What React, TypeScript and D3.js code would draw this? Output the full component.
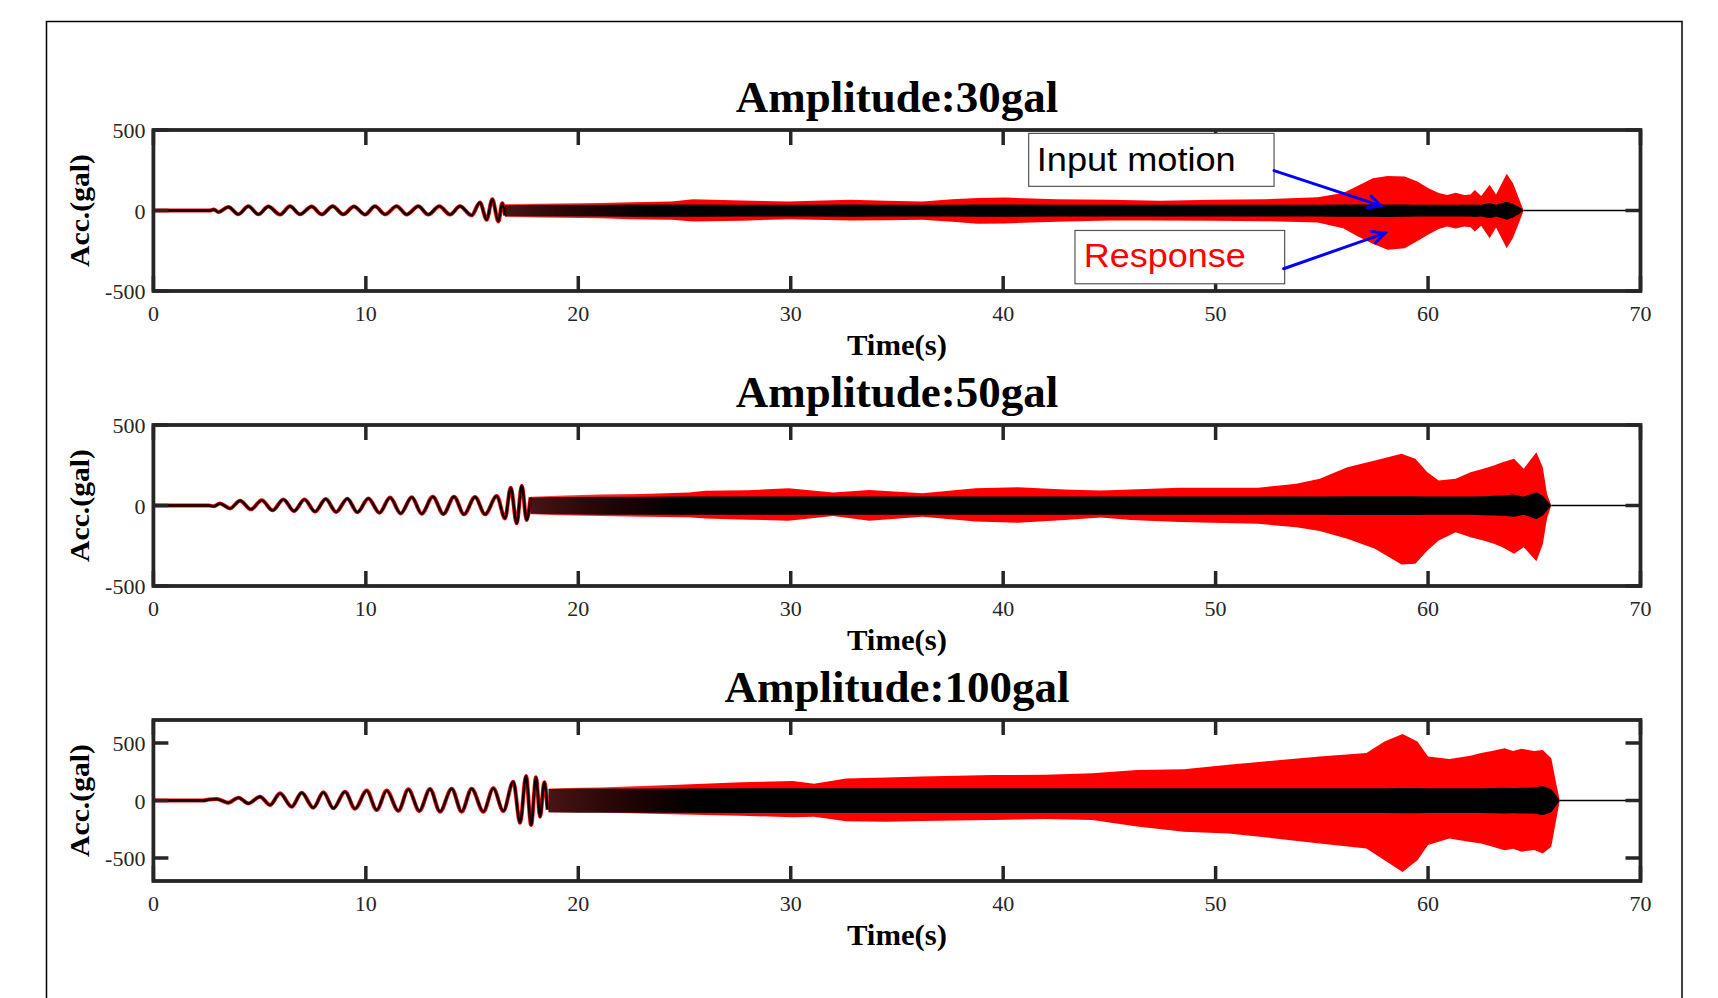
import React from "react";
import * as d3 from "d3";

// ---------------- data ----------------
const xTickValues = [0, 10, 20, 30, 40, 50, 60, 70];
const yTickValues = [-500, 0, 500];
const panelTitles = ["Amplitude:30gal", "Amplitude:50gal", "Amplitude:100gal"];
const yDomains: [number, number][] = [[-500, 500], [-500, 500], [-700, 700]];

// 30 gal: low-frequency sweep extrema (time s, acc gal)
const sweep30T = [0, 2.65, 2.85, 3.06, 3.53, 4.0, 4.47, 4.94, 5.41, 5.96, 6.43, 6.9, 7.45, 7.92, 8.44, 8.94, 9.44, 9.96, 10.43, 10.9, 11.45, 11.92, 12.47, 12.94, 13.46, 13.96, 14.43, 14.98, 15.37, 15.69, 15.95, 16.24, 16.42, 16.55];
const sweep30V = [0, 0, 6, -10, 22, -23, 26, -24, 25, -25, 26, -24, 25, -24, 26, -24, 25, -25, 26, -24, 27, -25, 26, -25, 27, -25, 26, -30, 50, -58, 70, -68, 45, -30];
// 30 gal: envelopes of the dense part
const env30T = [16.55, 18, 20, 21, 22.5, 24.4, 25.4, 27.7, 29.9, 31.1, 32.8, 34.5, 36.2, 37.6, 38.8, 40.1, 42.5, 45.0, 47.4, 49.9, 52.3, 54.8, 56.0, 56.7, 57.4, 58.1, 58.9, 59.5, 60.0, 60.5, 60.9, 61.3, 61.7, 62.0, 62.2, 62.5, 62.9, 63.2, 63.7, 64.0, 64.3, 64.5];
const resp30Up = [40, 42, 45, 46, 52, 56, 70, 62, 56, 60, 66, 60, 56, 70, 77, 80, 70, 66, 60, 66, 70, 83, 108, 153, 200, 215, 211, 180, 139, 108, 97, 110, 97, 100, 128, 90, 160, 100, 228, 170, 66, 0];
const resp30Lo = [-40, -44, -46, -48, -54, -58, -68, -64, -54, -58, -62, -60, -58, -70, -83, -80, -70, -62, -62, -64, -66, -75, -110, -161, -207, -244, -234, -190, -150, -115, -100, -112, -100, -104, -130, -95, -172, -105, -234, -170, -70, 0];
const input30Up = [33, 35, 36, 36, 37, 37, 37, 36, 36, 36, 37, 36, 36, 36, 37, 37, 36, 36, 36, 36, 36, 36, 37, 37, 37, 38, 37, 36, 36, 35, 35, 35, 35, 35, 38, 35, 46, 36, 55, 42, 20, 0];
const input30Lo = [-35, -37, -38, -38, -39, -39, -39, -38, -38, -38, -39, -38, -38, -38, -39, -39, -38, -38, -38, -38, -38, -38, -39, -39, -39, -40, -39, -38, -38, -37, -37, -37, -37, -37, -40, -37, -48, -38, -57, -44, -22, 0];

// 50 gal
const sweep50T = [0, 2.6, 2.85, 3.13, 3.61, 4.08, 4.59, 5.10, 5.61, 6.12, 6.62, 7.11, 7.61, 8.11, 8.60, 9.13, 9.60, 10.12, 10.64, 11.14, 11.64, 12.16, 12.63, 13.15, 13.65, 14.15, 14.62, 15.14, 15.61, 16.16, 16.55, 16.82, 17.1, 17.34, 17.57, 17.75];
const sweep50V = [0, 0, -5, 12, -18, 30, -24, 32, -30, 38, -34, 38, -38, 40, -40, 42, -42, 44, -45, 49, -49, 51, -51, 55, -53, 55, -55, 53, -55, 59, -80, 111, -111, 123, -90, 50];
const env50T = [17.75, 19, 21.0, 23, 25.2, 26.0, 28, 29.9, 32.0, 33.7, 36.2, 38.7, 40.7, 42.9, 44.6, 46, 48.3, 52.0, 53.8, 54.9, 56.2, 57.5, 58.75, 59.4, 59.97, 60.5, 61.3, 62.0, 62.6, 63.1, 63.5, 64.05, 64.5, 65.1, 65.4, 65.6, 65.8];
const resp50Up = [55, 60, 69, 72, 80, 92, 95, 107, 80, 96, 76, 107, 113, 100, 93, 100, 110, 110, 135, 166, 238, 280, 321, 290, 207, 155, 166, 207, 228, 248, 269, 290, 228, 331, 238, 72, 0];
const resp50Lo = [-55, -60, -65, -70, -73, -80, -88, -94, -65, -94, -70, -100, -107, -90, -75, -90, -103, -114, -135, -159, -207, -269, -366, -362, -279, -217, -166, -197, -217, -238, -260, -300, -259, -346, -240, -80, 0];
const input50Up = [50, 53, 55, 55, 56, 56, 56, 56, 56, 56, 56, 56, 56, 56, 56, 56, 56, 56, 56, 56, 57, 57, 57, 57, 56, 56, 56, 56, 58, 60, 62, 68, 55, 83, 60, 30, 0];
const input50Lo = [-52, -55, -57, -57, -58, -58, -58, -58, -58, -58, -58, -58, -58, -58, -58, -58, -58, -58, -58, -58, -59, -59, -59, -59, -58, -58, -58, -58, -60, -62, -64, -70, -57, -85, -62, -32, 0];

// 100 gal
const sweep100T = [0, 2.35, 2.6, 2.98, 3.53, 4.0, 4.47, 5.02, 5.49, 5.96, 6.51, 6.98, 7.53, 8.0, 8.47, 9.02, 9.49, 10.04, 10.51, 10.98, 11.53, 12.0, 12.52, 13.02, 13.49, 14.04, 14.51, 14.98, 15.53, 16.0, 16.47, 16.94, 17.26, 17.54, 17.78, 18.01, 18.2, 18.4, 18.55];
const sweep100V = [0, 0, 8, 12, -19, 25, -25, 33, -39, 62, -54, 68, -63, 71, -68, 77, -71, 86, -83, 86, -89, 97, -91, 100, -97, 103, -97, 103, -97, 106, -92, 164, -194, 214, -214, 202, -141, 159, -80];
const env100T = [18.6, 20, 21.0, 24.4, 27.7, 30.1, 31.1, 32.6, 34.5, 36.15, 39.5, 42.0, 44.2, 46.3, 48.5, 50.6, 52.8, 54.9, 57.1, 57.95, 58.8, 59.5, 60.0, 61.0, 62.0, 62.5, 63.0, 63.6, 64.0, 64.4, 65.0, 65.4, 65.8, 66.0, 66.2];
const resp100Up = [105, 110, 112, 135, 159, 170, 145, 192, 200, 208, 222, 223, 237, 266, 272, 310, 348, 383, 412, 513, 578, 513, 383, 360, 390, 412, 430, 455, 430, 450, 430, 440, 368, 179, 0];
const resp100Lo = [-105, -105, -105, -120, -132, -146, -141, -180, -185, -179, -170, -160, -170, -225, -272, -287, -330, -374, -418, -520, -621, -520, -388, -330, -360, -374, -400, -432, -420, -445, -430, -461, -403, -200, 0];
const input100Up = [100, 104, 105, 105, 106, 106, 106, 106, 106, 106, 106, 106, 106, 106, 106, 106, 106, 106, 106, 106, 108, 108, 106, 106, 106, 106, 108, 110, 108, 110, 112, 127, 100, 50, 0];
const input100Lo = [-102, -106, -107, -107, -108, -108, -108, -108, -108, -108, -108, -108, -108, -108, -108, -108, -108, -108, -108, -108, -110, -110, -108, -108, -108, -108, -110, -112, -110, -112, -114, -129, -102, -52, 0];

// annotations (panel 1, data coordinates)
const annoBoxes = [
  { label: "Input motion", color: "#000000", t0: 41.2, t1: 52.75, v0: 479, v1: 150, tx: 41.58, tv: 248, len: 199 },
  { label: "Response", color: "#ff0000", t0: 43.38, t1: 53.25, v0: -124, v1: -455, tx: 43.79, tv: -351, len: 162 },
];
const annoArrows = [
  { t0: 52.75, v0: 248, t1: 57.79, v1: 29 },
  { t0: 53.2, v0: -362, t1: 57.98, v1: -140 },
];

// ---------------- layout ----------------
const X0 = 153.4;
const X1 = 1640.5;
const PH = 161;
const panelTops = [130, 425, 720];
const AX = "#262626";
const SERIF = "'Liberation Serif', 'Times New Roman', serif";
const SANS = "'Liberation Sans', Arial, sans-serif";

type PanelProps = {
  i: number;
  sweepT: number[];
  sweepV: number[];
  envT: number[];
  rUp: number[];
  rLo: number[];
  iUp: number[];
  iLo: number[];
  annotate?: boolean;
};

function Panel({ i, sweepT, sweepV, envT, rUp, rLo, iUp, iLo, annotate }: PanelProps) {
  const top = panelTops[i];
  const x = d3.scaleLinear().domain([0, 70]).range([X0, X1]);
  const y = d3.scaleLinear().domain(yDomains[i]).range([top + PH, top]);

  const sweepPts = sweepT.map((t, k) => [t, sweepV[k]] as [number, number]);
  const sweepLine = d3
    .line<[number, number]>()
    .x((d) => x(d[0]))
    .y((d) => y(d[1]))
    .curve(d3.curveMonotoneX)(sweepPts) as string;

  const idx = envT.map((_, k) => k);
  const respArea = d3
    .area<number>()
    .x((k) => x(envT[k]))
    .y0((k) => y(rLo[k]))
    .y1((k) => y(rUp[k]))(idx) as string;
  const inArea = d3
    .area<number>()
    .x((k) => x(envT[k]))
    .y0((k) => y(iLo[k]))
    .y1((k) => y(iUp[k]))(idx) as string;

  const tEnd = envT[envT.length - 1];
  const tail = d3
    .line<[number, number]>()
    .x((d) => x(d[0]))
    .y((d) => y(d[1]))([
    [tEnd, 0],
    [70, 0],
  ]) as string;

  const gx0 = x(envT[0]);
  const gx1 = x(envT[0] + 7);
  const TL = 15;

  return (
    <g>
      <defs>
        <clipPath id={`clip${i}`}>
          <rect x={X0} y={top} width={X1 - X0} height={PH} />
        </clipPath>
        <linearGradient id={`gr${i}`} gradientUnits="userSpaceOnUse" x1={gx0} x2={gx1} y1={0} y2={0}>
          <stop offset="0" stopColor="#ff0000" stopOpacity={0.7} />
          <stop offset="1" stopColor="#ff0000" stopOpacity={1} />
        </linearGradient>
        <linearGradient id={`gk${i}`} gradientUnits="userSpaceOnUse" x1={gx0} x2={gx1} y1={0} y2={0}>
          <stop offset="0" stopColor="#000000" stopOpacity={0.72} />
          <stop offset="1" stopColor="#000000" stopOpacity={1} />
        </linearGradient>
      </defs>

      {/* title */}
      <text
        x={(X0 + X1) / 2}
        y={top - 18.5}
        textAnchor="middle"
        fontFamily={SERIF}
        fontWeight="bold"
        fontSize={45}
        fill="#000"
      >
        {panelTitles[i]}
      </text>

      {/* data */}
      <g clipPath={`url(#clip${i})`}>
        <path d={tail} fill="none" stroke="#000" strokeWidth={1.6} />
        <path d={sweepLine} fill="none" stroke="#ff0000" strokeWidth={4} strokeLinejoin="round" />
        <path d={sweepLine} fill="none" stroke="#000" strokeWidth={2.4} strokeLinejoin="round" />
        <path d={respArea} fill={`url(#gr${i})`} />
        <path d={inArea} fill={`url(#gk${i})`} />
      </g>

      {/* x ticks */}
      {xTickValues.map((t) => (
        <g key={`xt${t}`}>
          <line x1={x(t)} x2={x(t)} y1={top} y2={top + TL} stroke={AX} strokeWidth={3.5} />
          <line x1={x(t)} x2={x(t)} y1={top + PH} y2={top + PH - TL} stroke={AX} strokeWidth={3.5} />
          <text
            x={x(t)}
            y={top + PH + 30}
            textAnchor="middle"
            fontFamily={SERIF}
            fontSize={22}
            fill={AX}
          >
            {t}
          </text>
        </g>
      ))}

      {/* y ticks */}
      {yTickValues.map((v) => (
        <g key={`yt${v}`}>
          <line x1={X0} x2={X0 + TL} y1={y(v)} y2={y(v)} stroke={AX} strokeWidth={3.5} />
          <line x1={X1} x2={X1 - TL} y1={y(v)} y2={y(v)} stroke={AX} strokeWidth={3.5} />
          <text x={X0 - 8} y={y(v) + 8} textAnchor="end" fontFamily={SERIF} fontSize={22} fill={AX}>
            {v}
          </text>
        </g>
      ))}

      {/* frame */}
      <rect x={X0} y={top} width={X1 - X0} height={PH} fill="none" stroke={AX} strokeWidth={3.8} />

      {/* axis labels */}
      <text
        x={(X0 + X1) / 2}
        y={top + PH + 64}
        textAnchor="middle"
        fontFamily={SERIF}
        fontWeight="bold"
        fontSize={30}
        textLength={100}
        lengthAdjust="spacingAndGlyphs"
        fill="#000"
      >
        Time(s)
      </text>
      <text
        transform={`translate(89, ${top + PH / 2}) rotate(-90)`}
        textAnchor="middle"
        fontFamily={SERIF}
        fontWeight="bold"
        fontSize={28}
        textLength={113}
        lengthAdjust="spacingAndGlyphs"
        fill="#000"
      >
        Acc.(gal)
      </text>

      {annotate && (
        <g>
          {annoBoxes.map((b) => (
            <g key={b.label}>
              <rect
                x={x(b.t0)}
                y={y(b.v0)}
                width={x(b.t1) - x(b.t0)}
                height={y(b.v1) - y(b.v0)}
                fill="#fff"
                stroke="#555"
                strokeWidth={1.2}
              />
              <text
                x={x(b.tx)}
                y={y(b.tv)}
                fontFamily={SANS}
                fontSize={34}
                textLength={b.len}
                lengthAdjust="spacingAndGlyphs"
                fill={b.color}
              >
                {b.label}
              </text>
            </g>
          ))}
          {annoArrows.map((a, k) => {
            const sx = x(a.t0);
            const sy = y(a.v0);
            const ex = x(a.t1);
            const ey = y(a.v1);
            const ang = Math.atan2(ey - sy, ex - sx);
            const L = 14;
            const spread = 0.45;
            const h1x = ex - L * Math.cos(ang - spread);
            const h1y = ey - L * Math.sin(ang - spread);
            const h2x = ex - L * Math.cos(ang + spread);
            const h2y = ey - L * Math.sin(ang + spread);
            return (
              <g key={`ar${k}`} stroke="#0000ff" strokeWidth={3} fill="none" strokeLinecap="round">
                <line x1={sx} y1={sy} x2={ex} y2={ey} />
                <path d={`M${h1x},${h1y} L${ex},${ey} L${h2x},${h2y}`} />
              </g>
            );
          })}
        </g>
      )}
    </g>
  );
}

export default function App() {
  return (
    <svg
      width={1718}
      height={998}
      style={{ position: "absolute", left: 0, top: 0, display: "block" }}
      xmlns="http://www.w3.org/2000/svg"
    >
      <rect x={0} y={0} width={1718} height={998} fill="#ffffff" />
      <rect x={46.5} y={21.5} width={1635.5} height={1100} fill="none" stroke="#000" strokeWidth={1.5} />
      <Panel
        i={0}
        sweepT={sweep30T}
        sweepV={sweep30V}
        envT={env30T}
        rUp={resp30Up}
        rLo={resp30Lo}
        iUp={input30Up}
        iLo={input30Lo}
        annotate
      />
      <Panel
        i={1}
        sweepT={sweep50T}
        sweepV={sweep50V}
        envT={env50T}
        rUp={resp50Up}
        rLo={resp50Lo}
        iUp={input50Up}
        iLo={input50Lo}
      />
      <Panel
        i={2}
        sweepT={sweep100T}
        sweepV={sweep100V}
        envT={env100T}
        rUp={resp100Up}
        rLo={resp100Lo}
        iUp={input100Up}
        iLo={input100Lo}
      />
    </svg>
  );
}
